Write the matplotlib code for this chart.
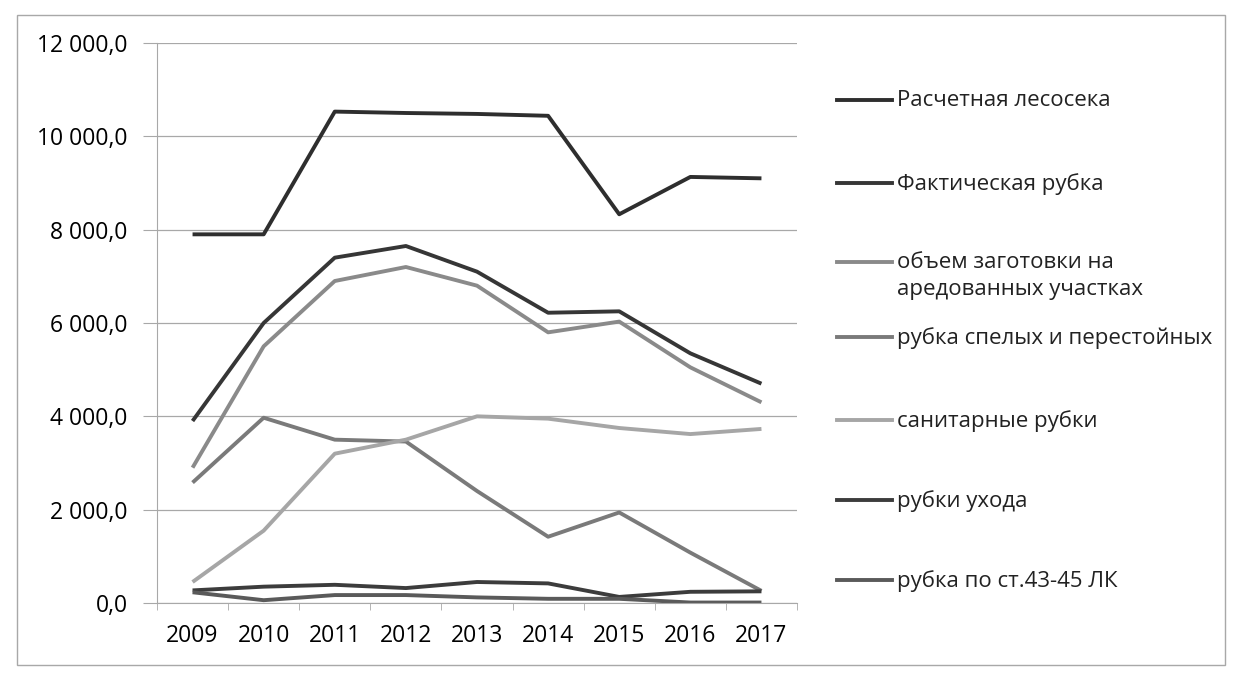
import matplotlib.pyplot as plt
from matplotlib.lines import Line2D
from matplotlib.patches import Rectangle
from matplotlib.ticker import FixedLocator, FuncFormatter

plt.rcParams['font.family'] = ['Open Sans', 'DejaVu Sans']

years = ['2009', '2010', '2011', '2012', '2013', '2014', '2015', '2016', '2017']

raschetnaya = [7900, 7900, 10530, 10500, 10480, 10440, 8330, 9130, 9100]
fakticheskaya = [3900, 6000, 7400, 7650, 7100, 6220, 6250, 5350, 4700]
arenda = [2900, 5500, 6900, 7200, 6800, 5800, 6030, 5050, 4300]
spelye = [2580, 3970, 3500, 3460, 2400, 1420, 1940, 1080, 260]
sanitarnye = [450, 1550, 3200, 3500, 4000, 3950, 3750, 3620, 3730]
ukhod = [270, 350, 390, 320, 450, 420, 130, 240, 250]
st43_45 = [230, 60, 170, 170, 120, 90, 90, 10, 10]

labels = ['Расчетная лесосека', 'Фактическая рубка',
          'объем заготовки на\nаредованных участках',
          'рубка спелых и перестойных', 'санитарные рубки',
          'рубки ухода', 'рубка по ст.43-45 ЛК']
series = [raschetnaya, fakticheskaya, arenda, spelye, sanitarnye, ukhod, st43_45]
colors = ['#2e2e2e', '#363636', '#8a8a8a', '#7a7a7a', '#a6a6a6', '#3c3c3c', '#5a5a5a']

W, H = 1233, 680
fig = plt.figure(figsize=(W / 100, H / 100), dpi=100)
ax = fig.add_axes([157 / W, 1 - 603 / H, (797 - 157) / W, (603 - 43) / H])

x = list(range(len(years)))
for vals, c in zip(series, colors):
    ax.plot(x, vals, color=c, lw=2.8, solid_capstyle='butt')

ax.set_xlim(-0.5, len(years) - 0.5)
ax.set_ylim(0, 12000)
ax.yaxis.set_major_locator(FixedLocator(range(0, 12001, 2000)))
ax.yaxis.set_major_formatter(FuncFormatter(
    lambda v, p: f'{v:,.1f}'.replace(',', ' ').replace('.', ',')))
ax.grid(axis='y', color='#a8a8a8', lw=0.9)
ax.set_axisbelow(True)

ax.set_xticks(x)
ax.set_xticklabels(years)
ax.set_xticks([i - 0.5 for i in range(len(years) + 1)], minor=True)
ax.tick_params(axis='x', which='major', length=0, pad=15, labelsize=16.5)
ax.tick_params(axis='x', which='minor', length=5, color='#a8a8a8', direction='out')
ax.tick_params(axis='y', length=10, color='#a8a8a8', pad=11, labelsize=16.5)

for s in ['top', 'right']:
    ax.spines[s].set_visible(False)
ax.spines['left'].set_color('#a8a8a8')
ax.spines['bottom'].set_color('#a8a8a8')

# legend, laid out like the Excel original
leg_y = [100, 183, 262, 337, 420, 500, 580]
for lab, c, yp in zip(labels, colors, leg_y):
    yf = 1 - yp / H
    fig.add_artist(Line2D([837 / W, 892 / W], [yf, yf], color=c, lw=2.8,
                          transform=fig.transFigure))
    fig.text(897 / W, yf + 10 / H, lab, fontsize=16, va='top', ha='left',
             color='#222222', linespacing=1.4)

fig.add_artist(Rectangle((17 / W, 1 - 665 / H), (1225 - 17) / W, (665 - 15) / H,
                         transform=fig.transFigure, fill=False,
                         edgecolor='#a8a8a8', lw=1))

fig.savefig('out.png', dpi=100)
